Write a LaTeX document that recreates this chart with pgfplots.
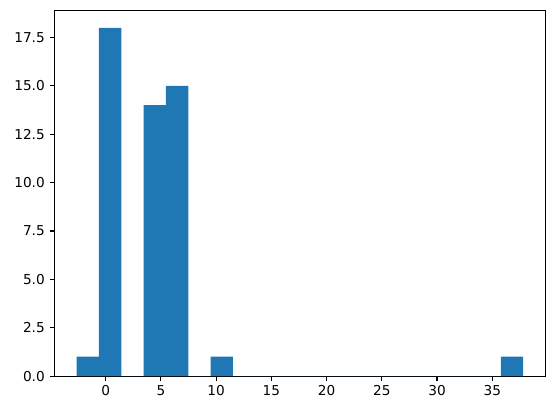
\documentclass[border=0pt]{standalone}
\usepackage{fontspec}
\setmainfont{DejaVu Sans}
\usepackage{pgfplots}
\pgfplotsset{compat=1.18}
\definecolor{mplblue}{HTML}{1F77B4}
\begin{document}
\begin{tikzpicture}
\begin{axis}[
    scale only axis,
    width=360pt, height=268pt,
    xmin=-4.64, xmax=39.83,
    ymin=0, ymax=18.9,
    xtick={0,5,...,35},
    ytick={0,2.5,...,17.5},
    yticklabel style={/pgf/number format/.cd,fixed,fixed zerofill,precision=1},
    /pgf/number format/assume math mode=true,
    tick label style={font=\fontsize{10}{12}\selectfont},
    tick align=outside,
    major tick length=3.5pt,
    xtick pos=bottom, ytick pos=left,
    axis line style={line width=0.8pt},
    every tick/.style={black, line width=0.8pt},
]
% histogram, 20 bins
\addplot[ybar interval, fill=mplblue, draw=none] coordinates {
    (-2.62,1) (-0.60,18) (1.42,0) (3.44,14) (5.46,15) (7.48,0)
    (9.50,1) (11.52,0) (13.54,0) (15.56,0) (17.58,0) (19.60,0)
    (21.62,0) (23.64,0) (25.66,0) (27.68,0) (29.70,0) (31.72,0)
    (33.74,0) (35.77,1) (37.79,1)
};
\end{axis}
\path ([shift={(-7.2pt,-7.2pt)}]current bounding box.south west)
      ([shift={(7.2pt,7.2pt)}]current bounding box.north east);
\end{tikzpicture}
\end{document}
